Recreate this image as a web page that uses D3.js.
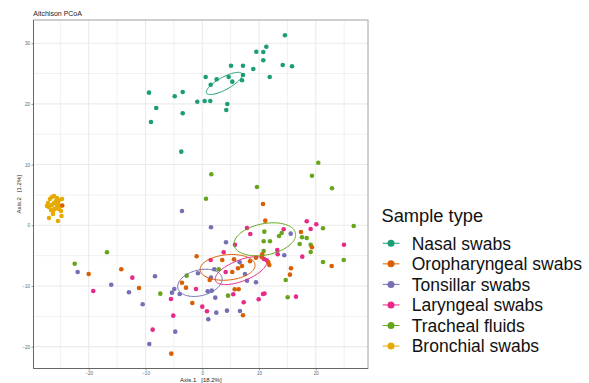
<!DOCTYPE html>
<html>
<head>
<meta charset="utf-8">
<script src="https://cdn.jsdelivr.net/npm/d3@7"></script>
<style>
  html, body { margin: 0; padding: 0; background: #ffffff; }
  svg { display: block; font-family: "Liberation Sans", Arial, Helvetica, sans-serif; }
</style>
</head>
<body>
<svg id="chart" width="589" height="383"></svg>
<script>
// PCoA scores (Axis.1, Axis.2) for each sample type
const nasal = [
  [14.57,31.30],[11.28,29.42],[9.52,28.60],[10.75,28.55],[10.75,27.18],[14.17,26.41],
  [15.81,26.19],[5.06,26.29],[7.17,26.29],[8.99,25.75],[0.60,24.43],[2.54,24.05],
  [4.65,24.43],[5.29,23.66],[7.17,24.76],[7.00,23.89],[11.88,24.43],[1.48,23.16],
  [-9.39,21.85],[-4.86,21.25],[-3.45,21.96],[-8.11,19.32],[-0.88,20.36],[0.42,20.48],
  [1.41,20.48],[4.41,19.98],[4.23,18.99],[-3.45,18.45],[-9.04,17.02],[-3.70,12.13]
];
const oropharyngeal = [
  [-24.67,3.26],[-0.99,-5.11],[-20.02,-8.02],[-14.27,-7.25],[1.30,-9.01],[-11.15,-10.33],
  [-3.58,-9.46],[-2.87,-10.28],[-1.76,-12.80],[-5.46,-21.15],[10.70,3.51],[11.10,0.76],
  [17.39,-1.10],[19.33,-3.62],[10.57,-4.78],[10.52,-5.27],[9.46,-5.34],[11.63,-6.05],
  [11.81,-6.54],[3.52,-5.72],[5.59,-5.60],[8.41,-5.93],[7.00,-6.71],[6.29,-7.08],
  [5.29,-7.69],[22.80,-6.71],[15.63,-7.08],[15.45,-8.14],[5.71,-10.54],[6.41,-10.54],
  [7.17,-14.83]
];
const tonsillar = [
  [-3.58,2.36],[1.53,-0.33],[-21.96,-7.69],[-8.33,-8.40],[2.11,-7.25],[-0.76,-7.91],
  [1.53,-8.63],[-16.04,-9.79],[-12.92,-11.04],[-4.93,-10.49],[-5.34,-11.10],[-3.98,-11.32],
  [0.95,-10.87],[1.66,-10.77],[2.29,-11.93],[-10.50,-13.01],[2.47,-14.40],[1.06,-15.49],
  [-4.76,-17.53],[-9.34,-19.56],[15.58,-1.38],[4.18,-2.80],[14.45,-4.94],[6.59,-6.10],
  [7.52,-8.02],[7.88,-9.13],[9.46,-9.39],[4.35,-14.07],[6.64,-14.12]
];
const laryngeal = [
  [1.48,-5.72],[-12.33,-8.63],[-19.21,-10.82],[-1.11,-10.49],[-5.52,-12.14],[0.00,-13.41],
  [0.83,-14.17],[-5.11,-14.89],[-8.74,-17.20],[18.40,0.66],[20.09,0.16],[7.88,-0.44],
  [8.46,-1.43],[14.34,-0.66],[19.10,-0.61],[24.97,-3.20],[5.76,-3.20],[3.77,-4.45],
  [13.22,-4.07],[13.29,-4.78],[17.62,-5.17],[10.87,-5.55],[11.35,-5.77],[4.12,-7.69],
  [5.46,-11.37],[10.70,-11.32],[10.96,-11.24],[9.94,-12.19],[16.51,-11.76],[7.30,-12.69]
];
const tracheal = [
  [0.65,4.38],[-16.79,-4.45],[-22.48,-6.33],[2.89,-7.25],[-2.75,-8.30],[-7.40,-11.27],
  [20.44,10.31],[1.59,8.40],[19.33,8.17],[9.64,6.31],[22.85,6.10],[26.68,-0.12],
  [10.93,-1.05],[13.99,-1.27],[13.52,-1.76],[21.27,-0.49],[17.57,-1.98],[18.40,-2.09],
  [10.82,-2.64],[11.93,-2.64],[17.16,-3.08],[19.10,-3.20],[10.82,-4.23],[19.10,-4.40],
  [21.27,-6.05],[24.92,-5.72],[14.70,-9.01],[4.53,-11.60],[15.05,-11.86]
];
const bronchial = [
  [-27.19,3.67],[-26.84,4.33],[-26.48,4.66],[-26.13,4.83],[-25.60,4.50],[-25.25,4.17],
  [-24.72,4.33],[-27.01,3.01],[-26.66,2.52],[-26.31,2.19],[-25.96,2.69],[-25.60,3.18],
  [-25.25,2.69],[-24.90,2.36],[-26.13,3.67],[-25.78,4.00],[-26.48,3.34],[-25.43,3.67],
  [-27.01,1.20],[-25.43,0.71],[-24.81,1.53],[-26.31,1.86],[-25.07,3.18],[-27.37,3.18]
];

const groupNames = ["Nasal swabs", "Oropharyngeal swabs", "Tonsillar swabs",
                    "Laryngeal swabs", "Tracheal fluids", "Bronchial swabs"];
const groupColors = ["#1B9E77", "#D95F02", "#7570B3", "#E7298A", "#66A61E", "#E6AB02"];
const groupData = [nasal, oropharyngeal, tonsillar, laryngeal, tracheal, bronchial];

const xTicks = [-20, -10, 0, 10, 20];
const yTicks = [-20, -10, 0, 10, 20, 30];
const xMinor = [-25, -15, -5, 5, 15, 25];
const yMinor = [-15, -5, 5, 15, 25];

const titleText = "Aitchison PCoA";
const xTitle = "Axis.1   [18.2%]";
const yTitle = "Axis.2   [1.2%]";
const legendTitle = "Sample type";

const svg = d3.select("#chart");
const panel = { left: 33.5, right: 368, top: 20, bottom: 368.5 };

const x = d3.scaleLinear().domain([-29.74, 29.2]).range([panel.left, panel.right]);
const y = d3.scaleLinear().domain([-23.6, 33.82]).range([panel.bottom, panel.top]);

svg.append("rect").attr("width", 589).attr("height", 383).attr("fill", "#ffffff");

// grid
const grid = svg.append("g");
grid.selectAll(".vminor").data(xMinor).join("line")
  .attr("x1", d => x(d)).attr("x2", d => x(d))
  .attr("y1", panel.top).attr("y2", panel.bottom)
  .attr("stroke", "#EBEBEB").attr("stroke-width", 0.7);
grid.selectAll(".hminor").data(yMinor).join("line")
  .attr("y1", d => y(d)).attr("y2", d => y(d))
  .attr("x1", panel.left).attr("x2", panel.right)
  .attr("stroke", "#EBEBEB").attr("stroke-width", 0.7);
grid.selectAll(".vmajor").data(xTicks).join("line")
  .attr("x1", d => x(d)).attr("x2", d => x(d))
  .attr("y1", panel.top).attr("y2", panel.bottom)
  .attr("stroke", "#EBEBEB").attr("stroke-width", 1.1);
grid.selectAll(".hmajor").data(yTicks).join("line")
  .attr("y1", d => y(d)).attr("y2", d => y(d))
  .attr("x1", panel.left).attr("x2", panel.right)
  .attr("stroke", "#EBEBEB").attr("stroke-width", 1.1);

// points
const pts = svg.append("g");
const drawOrder = [5, 0, 2, 3, 4, 1];
drawOrder.forEach(i => {
  pts.selectAll(null).data(groupData[i]).join("circle")
    .attr("cx", d => x(d[0])).attr("cy", d => y(d[1]))
    .attr("r", 2.3).attr("fill", groupColors[i]);
});

// 95% confidence ellipse of each group centroid
function centroidEllipse(data, steps) {
  const n = data.length;
  const mx = d3.mean(data, d => d[0]);
  const my = d3.mean(data, d => d[1]);
  let a = 0, b = 0, c = 0;
  data.forEach(d => {
    const dx = d[0] - mx, dy = d[1] - my;
    a += dx * dx; b += dx * dy; c += dy * dy;
  });
  a /= (n - 1) * n; b /= (n - 1) * n; c /= (n - 1) * n;
  const tr = a + c, det = a * c - b * b;
  const disc = Math.sqrt(Math.max(tr * tr / 4 - det, 0));
  const l1 = tr / 2 + disc, l2 = Math.max(tr / 2 - disc, 0);
  const theta = Math.abs(b) > 1e-12 ? Math.atan2(l1 - a, b) : (a >= c ? 0 : Math.PI / 2);
  const r = Math.sqrt(5.991);
  const r1 = r * Math.sqrt(l1), r2 = r * Math.sqrt(l2);
  const out = [];
  for (let k = 0; k < steps; k++) {
    const t = 2 * Math.PI * k / steps;
    const ex = r1 * Math.cos(t), ey = r2 * Math.sin(t);
    out.push([mx + ex * Math.cos(theta) - ey * Math.sin(theta),
              my + ex * Math.sin(theta) + ey * Math.cos(theta)]);
  }
  return out;
}
const ellipseLine = d3.line().x(d => x(d[0])).y(d => y(d[1])).curve(d3.curveLinearClosed);
const ell = svg.append("g");
groupData.forEach((g, i) => {
  ell.append("path")
    .attr("d", ellipseLine(centroidEllipse(g, 100)))
    .attr("fill", "none").attr("stroke", groupColors[i]).attr("stroke-width", 1);
});

// panel border
svg.append("rect")
  .attr("x", panel.left).attr("y", panel.top)
  .attr("width", panel.right - panel.left).attr("height", panel.bottom - panel.top)
  .attr("fill", "none").attr("stroke", "#A0A0A0").attr("stroke-width", 1);
svg.append("line").attr("x1", panel.left).attr("x2", panel.left)
  .attr("y1", panel.top).attr("y2", panel.bottom).attr("stroke", "#666").attr("stroke-width", 1);
svg.append("line").attr("x1", panel.left).attr("x2", panel.right)
  .attr("y1", panel.bottom).attr("y2", panel.bottom).attr("stroke", "#666").attr("stroke-width", 1);

// axes
const xAxis = svg.append("g").attr("transform", `translate(0,${panel.bottom})`)
  .call(d3.axisBottom(x).tickValues(xTicks).tickSize(2).tickPadding(1.5));
const yAxis = svg.append("g").attr("transform", `translate(${panel.left},0)`)
  .call(d3.axisLeft(y).tickValues(yTicks).tickSize(2).tickPadding(1.5));
[xAxis, yAxis].forEach(a => {
  a.select(".domain").remove();
  a.selectAll(".tick line").attr("stroke", "#555").attr("stroke-width", 0.6);
  a.selectAll(".tick text").attr("fill", "#666").attr("font-size", 4.6)
    .attr("font-family", "Liberation Sans, Arial, sans-serif");
});

// titles
svg.append("text").attr("x", 33.3).attr("y", 16).attr("font-size", 7).attr("fill", "#222")
  .text(titleText);
svg.append("text").attr("x", (panel.left + panel.right) / 2).attr("y", 382)
  .attr("text-anchor", "middle").attr("font-size", 6).attr("fill", "#222")
  .attr("xml:space", "preserve").style("white-space", "pre").text(xTitle);
svg.append("text")
  .attr("transform", `translate(21,${(panel.top + panel.bottom) / 2}) rotate(-90)`)
  .attr("text-anchor", "middle").attr("font-size", 6).attr("fill", "#222")
  .style("white-space", "pre").text(yTitle);

// legend
const legend = svg.append("g");
legend.append("text").attr("x", 381.5).attr("y", 222).attr("font-size", 18.3).attr("fill", "#111")
  .text(legendTitle);
const rows = legend.selectAll(".row").data(groupNames).join("g")
  .attr("transform", (d, i) => `translate(0,${243.3 + i * 20.55})`);
rows.append("line").attr("x1", 382.7).attr("x2", 399.5).attr("y1", 0).attr("y2", 0)
  .attr("stroke", (d, i) => groupColors[i]).attr("stroke-width", 1);
rows.append("circle").attr("cx", 391).attr("cy", 0).attr("r", 3.5)
  .attr("fill", (d, i) => groupColors[i]);
rows.append("text").attr("x", 411.7).attr("y", 0).attr("dy", "0.36em")
  .attr("font-size", 17.5).attr("fill", "#111").text(d => d);
</script>
</body>
</html>
